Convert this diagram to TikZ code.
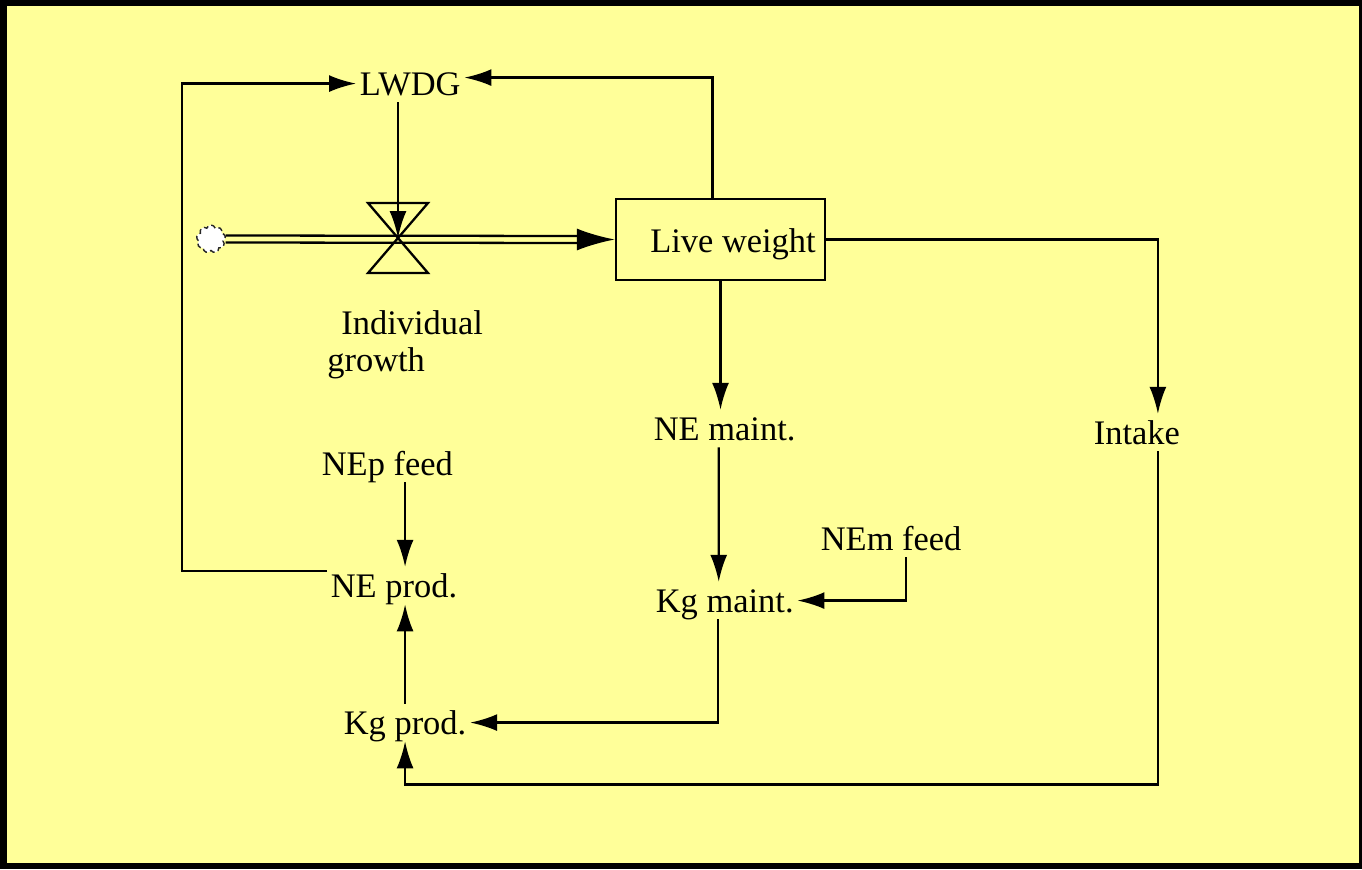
\documentclass[tikz,border=0pt]{standalone}
\usepackage{fontspec}
\setmainfont{Liberation Serif}
\usetikzlibrary{arrows.meta,calc,shapes.symbols}
\definecolor{bg_yellow}{RGB}{255,255,153}

\begin{document}
\begin{tikzpicture}[x=0.02cm, y=-0.02cm,
    var_style/.style={inner xsep=2pt, inner ysep=4pt, text height=13pt, text depth=0pt, font=\fontsize{19.6}{21}\selectfont},
    label_style/.style={inner sep=0pt, font=\fontsize{19.6}{21}\selectfont},
    stock_style/.style={draw, line width=1.3pt, minimum width=4.18cm, minimum height=1.62cm, inner sep=0pt, text height=15pt, text depth=0pt, font=\fontsize{19.6}{21}\selectfont},
    link_style/.style={-{Latex[length=0.54cm, width=0.34cm]}, line width=1.3pt},
    pipe_style/.style={line width=1.3pt},
    pipe_head/.style={-{Latex[length=0.76cm, width=0.44cm]}, line width=1.3pt},
    valve_style/.style={line width=1.3pt, line join=miter},
    cloud_style/.style={cloud, cloud puffs=9, aspect=1.05, draw=black!85, densely dashed, line width=0.8pt, fill=white, minimum width=0.58cm, minimum height=0.56cm, inner sep=0pt}
]
    % Frame and background
    \useasboundingbox (0,0) rectangle (1362,869);
    \fill[black] (0,0) rectangle (1362,869);
    \fill[bg_yellow] (7,6) rectangle (1359,863);

    % Stock and flow
    \node[stock_style] (live_weight) at (720.5,239.5) {\hspace*{0.5cm}Live weight};
    \coordinate (valve) at (398,238);
    \node[cloud_style] (cloud) at (211,239) {};
    \node[label_style, anchor=base west, align=left] (growth_label) at (327,371) {\hspace*{0.28cm}Individual\\growth};

    % Variables
    \node[var_style, anchor=base west] (lwdg) at (356,95) {LWDG};
    \node[var_style, anchor=base west] (ne_maint) at (650,440) {NE maint.};
    \node[var_style, anchor=base west] (intake) at (1090,444) {Intake};
    \node[var_style, anchor=base west] (nep_feed) at (318,475) {NEp feed};
    \node[var_style, anchor=base west] (nem_feed) at (817,550) {NEm feed};
    \node[var_style, anchor=base west] (ne_prod) at (327,597) {NE prod.};
    \node[var_style, anchor=base west] (kg_maint) at (652,612) {Kg maint.};
    \node[var_style, anchor=base west] (kg_prod) at (340,734) {Kg prod.};

    % Valve
    \draw[valve_style] ($(valve)+(-30,-35)$) -- ($(valve)+(30,-35)$) -- (valve) -- cycle;
    \draw[valve_style] ($(valve)+(-30,35)$) -- ($(valve)+(30,35)$) -- (valve) -- cycle;

    % Pipe into the stock
    \draw[pipe_style] ($(cloud.east)+(0,-3.5)$) -- ($(live_weight.west)+(-30,-3.5)$);
    \draw[pipe_style] ($(cloud.east)+(0,3.5)$) -- ($(live_weight.west)+(-30,3.5)$);
    \draw[pipe_head] ($(live_weight.west)+(-38,0)$) -- (live_weight.west);

    % Links
    \draw[link_style] ($(ne_prod.north west)+(0,4)$) -- ++(-145,0) |- (lwdg.west);
    \draw[link_style] ($(live_weight.north)+(-8,0)$) |- ($(lwdg.east)+(0,-6)$);
    \draw[link_style] (lwdg.south -| valve) -- (valve);
    \draw[link_style] (live_weight.east) -| ($(intake.north)+(21,0)$);
    \draw[link_style] (live_weight.south) -- (live_weight.south |- ne_maint.north);
    \draw[link_style] ($(ne_maint.south)+(-6,0)$) -- ($(kg_maint.north)+(-6,0)$);
    \draw[link_style] ($(nem_feed.south)+(15,0)$) |- (kg_maint.east);
    \draw[link_style] ($(kg_maint.south)+(-7,0)$) |- (kg_prod.east);
    \draw[link_style] (kg_prod.north) -- (kg_prod.north |- ne_prod.south);
    \draw[link_style] (nep_feed.south -| kg_prod.north) -- (ne_prod.north -| kg_prod.north);
    \draw[link_style] ($(intake.south)+(21,0)$) -- ++(0,333) -| (kg_prod.south);

\end{tikzpicture}
\end{document}
